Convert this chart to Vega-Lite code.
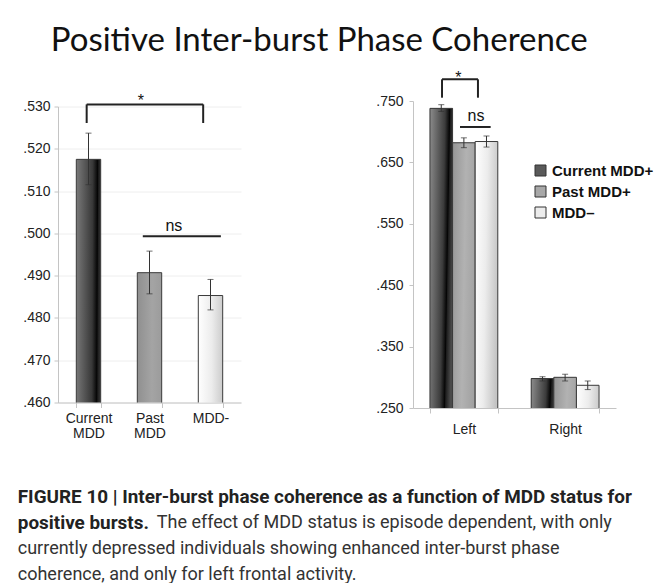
{
  "$schema": "https://vega.github.io/schema/vega-lite/v6.json",
  "background": "white",
  "padding": {"left": 17, "top": 25, "right": 0, "bottom": 4},
  "config": {
    "font": "Liberation Sans",
    "view": {"stroke": null},
    "axis": {
      "domainColor": "#c4c4c4",
      "tickColor": "#c4c4c4",
      "labelFont": "Liberation Sans",
      "labelFontSize": 14,
      "labelColor": "#222222",
      "title": null
    },
    "title": {"font": "Roboto", "fontSize": 18, "color": "#333333", "orient": "bottom", "anchor": "start", "lineHeight": 26}
  },
  "title": {
    "text": ["currently depressed individuals showing enhanced inter-burst phase", "coherence, and only for left frontal activity."],
    "fontWeight": "normal",
    "offset": 8
  },
  "vconcat": [
    {
      "title": {
        "text": "The effect of MDD status is episode dependent, with only",
        "fontWeight": "normal",
        "dx": 139,
        "offset": -18.9
      },
      "vconcat": [
        {
          "title": {
            "text": ["FIGURE 10 | Inter-burst phase coherence as a function of MDD status for", "positive bursts."],
            "fontWeight": "bold",
            "fontSize": 18.9,
            "color": "#222222",
            "dx": -5,
            "offset": 47
          },
          "vconcat": [
            {
              "title": {
                "text": "Positive Inter-burst Phase Coherence",
                "orient": "top",
                "font": "Lato",
                "fontSize": 33,
                "fontWeight": "normal",
                "color": "#111111",
                "anchor": "start",
                "dx": 28,
                "offset": 12
              },
              "resolve": {"scale": {"color": "independent"}, "legend": {"color": "independent"}},
              "hconcat": [
                {
                  "width": 183,
                  "height": 296,
                  "resolve": {"scale": {"x": "independent"}},
                  "layer": [
                    {
                      "data": {"values": [
                        {"g": "Current MDD", "v": 0.5175, "lo": 0.5115, "hi": 0.5237},
                        {"g": "Past MDD", "v": 0.4907, "lo": 0.4857, "hi": 0.4958},
                        {"g": "MDD-", "v": 0.4853, "lo": 0.4819, "hi": 0.4891}
                      ]},
                      "encoding": {
                        "x": {"field": "g", "type": "nominal", "sort": null,
                          "scale": {"paddingInner": 0.6, "paddingOuter": 0.3},
                          "axis": {"labelAngle": 0, "tickBand": "extent", "tickSize": 5, "labelPadding": 4, "labelExpr": "split(datum.label, ' ')", "labelLineHeight": 15}},
                        "y": {"field": "v", "type": "quantitative",
                          "scale": {"domain": [0.46, 0.53], "zero": false, "nice": false},
                          "axis": {"values": [0.46, 0.47, 0.48, 0.49, 0.5, 0.51, 0.52, 0.53], "labelExpr": "substring(format(datum.value, '.3f'), 1)", "tickSize": 4, "labelPadding": 4, "grid": true, "gridColor": "#eeeeee"}}
                      },
                      "layer": [
                        {
                          "mark": {"type": "bar", "clip": true, "stroke": "#3a3a3a", "strokeWidth": 1},
                          "encoding": {
                            "fill": {
                              "condition": [
                                {"test": "datum['g'] === 'Current MDD'", "value": {"gradient": "linear", "x1": 0, "y1": 0, "x2": 1, "y2": 0.35, "stops": [{"offset": 0, "color": "#7a7a7a"}, {"offset": 0.6, "color": "#383838"}, {"offset": 0.78, "color": "#050505"}, {"offset": 0.82, "color": "#1e1e1e"}, {"offset": 1, "color": "#4a4a4a"}]}},
                                {"test": "datum['g'] === 'Past MDD'", "value": {"gradient": "linear", "x1": 0, "y1": 0, "x2": 1, "y2": 0.35, "stops": [{"offset": 0, "color": "#8f8f8f"}, {"offset": 0.55, "color": "#a4a4a4"}, {"offset": 1, "color": "#999999"}]}}
                              ],
                              "value": {"gradient": "linear", "x1": 0, "y1": 0, "x2": 1, "y2": 0.35, "stops": [{"offset": 0, "color": "#ffffff"}, {"offset": 0.5, "color": "#ececec"}, {"offset": 1, "color": "#c4c4c4"}]}
                            }
                          }
                        },
                        {
                          "mark": {"type": "rule", "color": "#333333", "strokeWidth": 1},
                          "encoding": {"y": {"field": "lo", "type": "quantitative"}, "y2": {"field": "hi"}}
                        },
                        {
                          "mark": {"type": "tick", "color": "#333333", "thickness": 1, "size": 6},
                          "encoding": {"y": {"field": "lo", "type": "quantitative"}}
                        },
                        {
                          "mark": {"type": "tick", "color": "#333333", "thickness": 1, "size": 6},
                          "encoding": {"y": {"field": "hi", "type": "quantitative"}}
                        }
                      ]
                    },
                    {
                      "layer": [
                        {
                          "data": {"values": [
                            {"x": 0.47, "x2": 2.38, "y": 0.5305, "y2": 0.5305},
                            {"x": 0.47, "x2": 0.47, "y": 0.5261, "y2": 0.5305},
                            {"x": 2.38, "x2": 2.38, "y": 0.5261, "y2": 0.5305},
                            {"x": 1.39, "x2": 2.67, "y": 0.4993, "y2": 0.4993}
                          ]},
                          "mark": {"type": "rule", "color": "#222222", "strokeWidth": 2},
                          "encoding": {
                            "x": {"field": "x", "type": "quantitative", "scale": {"domain": [0, 3], "nice": false, "zero": false}, "axis": null},
                            "x2": {"field": "x2"},
                            "y": {"field": "y", "type": "quantitative"},
                            "y2": {"field": "y2"}
                          }
                        },
                        {
                          "data": {"values": [
                            {"x": 1.36, "y": 0.5302, "t": "*"},
                            {"x": 1.9, "y": 0.5005, "t": "ns"}
                          ]},
                          "mark": {"type": "text", "fontSize": 16, "color": "#111111", "baseline": "alphabetic"},
                          "encoding": {
                            "x": {"field": "x", "type": "quantitative", "scale": {"domain": [0, 3], "nice": false, "zero": false}, "axis": null},
                            "y": {"field": "y", "type": "quantitative"},
                            "text": {"field": "t"}
                          }
                        }
                      ]
                    }
                  ]
                },
                {
                  "width": 203,
                  "height": 307,
                  "resolve": {"scale": {"x": "independent"}},
                  "layer": [
                    {
                      "data": {"values": [
                        {"region": "Left", "g": "Current MDD+", "v": 0.738, "lo": 0.733, "hi": 0.744},
                        {"region": "Left", "g": "Past MDD+", "v": 0.682, "lo": 0.674, "hi": 0.690},
                        {"region": "Left", "g": "MDD\u2013", "v": 0.684, "lo": 0.675, "hi": 0.693},
                        {"region": "Right", "g": "Current MDD+", "v": 0.298, "lo": 0.294, "hi": 0.301},
                        {"region": "Right", "g": "Past MDD+", "v": 0.300, "lo": 0.294, "hi": 0.305},
                        {"region": "Right", "g": "MDD\u2013", "v": 0.287, "lo": 0.280, "hi": 0.294}
                      ]},
                      "encoding": {
                        "x": {"field": "region", "type": "nominal", "sort": null,
                          "scale": {"paddingInner": 0.33, "paddingOuter": 0.1675},
                          "axis": {"labelAngle": 0, "tickBand": "extent", "tickSize": 5, "labelPadding": 9}},
                        "xOffset": {"field": "g", "type": "nominal", "sort": null, "scale": {"paddingInner": 0, "paddingOuter": 0}},
                        "y": {"field": "v", "type": "quantitative",
                          "scale": {"domain": [0.25, 0.75], "zero": false, "nice": false},
                          "axis": {"values": [0.25, 0.35, 0.45, 0.55, 0.65, 0.75], "labelExpr": "substring(format(datum.value, '.3f'), 1)", "tickSize": 4, "labelPadding": 6, "grid": false}}
                      },
                      "layer": [
                        {
                          "mark": {"type": "bar", "clip": true},
                          "encoding": {
                            "color": {"field": "g", "type": "nominal", "sort": null,
                              "scale": {"domain": ["Current MDD+", "Past MDD+", "MDD\u2013"], "range": ["#5a5a5a", "#a8a8a8", "#ececec"]},
                              "legend": {"orient": "none", "legendX": 120, "legendY": 62, "title": null, "symbolType": "square", "symbolSize": 121, "symbolStrokeColor": "#333333", "symbolStrokeWidth": 1, "labelFont": "Liberation Sans", "labelFontSize": 15, "labelFontWeight": "bold", "labelColor": "#111111", "rowPadding": 5, "labelOffset": 4}}
                          }
                        },
                        {
                          "mark": {"type": "bar", "clip": true, "stroke": "#3a3a3a", "strokeWidth": 1},
                          "encoding": {
                            "fill": {
                              "condition": [
                                {"test": "datum['g'] === 'Current MDD+'", "value": {"gradient": "linear", "x1": 0, "y1": 0, "x2": 1, "y2": 0.35, "stops": [{"offset": 0, "color": "#8c8c8c"}, {"offset": 0.6, "color": "#3c3c3c"}, {"offset": 0.78, "color": "#050505"}, {"offset": 0.82, "color": "#1e1e1e"}, {"offset": 1, "color": "#4a4a4a"}]}},
                                {"test": "datum['g'] === 'Past MDD+'", "value": {"gradient": "linear", "x1": 0, "y1": 0, "x2": 1, "y2": 0.35, "stops": [{"offset": 0, "color": "#959595"}, {"offset": 0.55, "color": "#b2b2b2"}, {"offset": 1, "color": "#a2a2a2"}]}}
                              ],
                              "value": {"gradient": "linear", "x1": 0, "y1": 0, "x2": 1, "y2": 0.35, "stops": [{"offset": 0, "color": "#ffffff"}, {"offset": 0.5, "color": "#ececec"}, {"offset": 1, "color": "#c4c4c4"}]}
                            }
                          }
                        },
                        {
                          "mark": {"type": "rule", "color": "#333333", "strokeWidth": 1},
                          "encoding": {"y": {"field": "lo", "type": "quantitative"}, "y2": {"field": "hi"}}
                        },
                        {
                          "mark": {"type": "tick", "color": "#333333", "thickness": 1, "size": 6},
                          "encoding": {"y": {"field": "lo", "type": "quantitative"}}
                        },
                        {
                          "mark": {"type": "tick", "color": "#333333", "thickness": 1, "size": 6},
                          "encoding": {"y": {"field": "hi", "type": "quantitative"}}
                        }
                      ]
                    },
                    {
                      "layer": [
                        {
                          "data": {"values": [
                            {"x": 0.286, "x2": 0.64, "y": 0.7853, "y2": 0.7853},
                            {"x": 0.286, "x2": 0.286, "y": 0.7554, "y2": 0.7853},
                            {"x": 0.64, "x2": 0.64, "y": 0.7554, "y2": 0.7853},
                            {"x": 0.463, "x2": 0.765, "y": 0.7077, "y2": 0.7077}
                          ]},
                          "mark": {"type": "rule", "color": "#222222", "strokeWidth": 2},
                          "encoding": {
                            "x": {"field": "x", "type": "quantitative", "scale": {"domain": [0, 2], "nice": false, "zero": false}, "axis": null},
                            "x2": {"field": "x2"},
                            "y": {"field": "y", "type": "quantitative"},
                            "y2": {"field": "y2"}
                          }
                        },
                        {
                          "data": {"values": [
                            {"x": 0.446, "y": 0.7793, "t": "*"},
                            {"x": 0.62, "y": 0.7174, "t": "ns"}
                          ]},
                          "mark": {"type": "text", "fontSize": 16, "color": "#111111", "baseline": "alphabetic"},
                          "encoding": {
                            "x": {"field": "x", "type": "quantitative", "scale": {"domain": [0, 2], "nice": false, "zero": false}, "axis": null},
                            "y": {"field": "y", "type": "quantitative"},
                            "text": {"field": "t"}
                          }
                        }
                      ]
                    }
                  ]
                }
              ],
              "spacing": 172,
              "bounds": "flush",
              "center": true
            }
          ]
        }
      ]
    }
  ]
}
